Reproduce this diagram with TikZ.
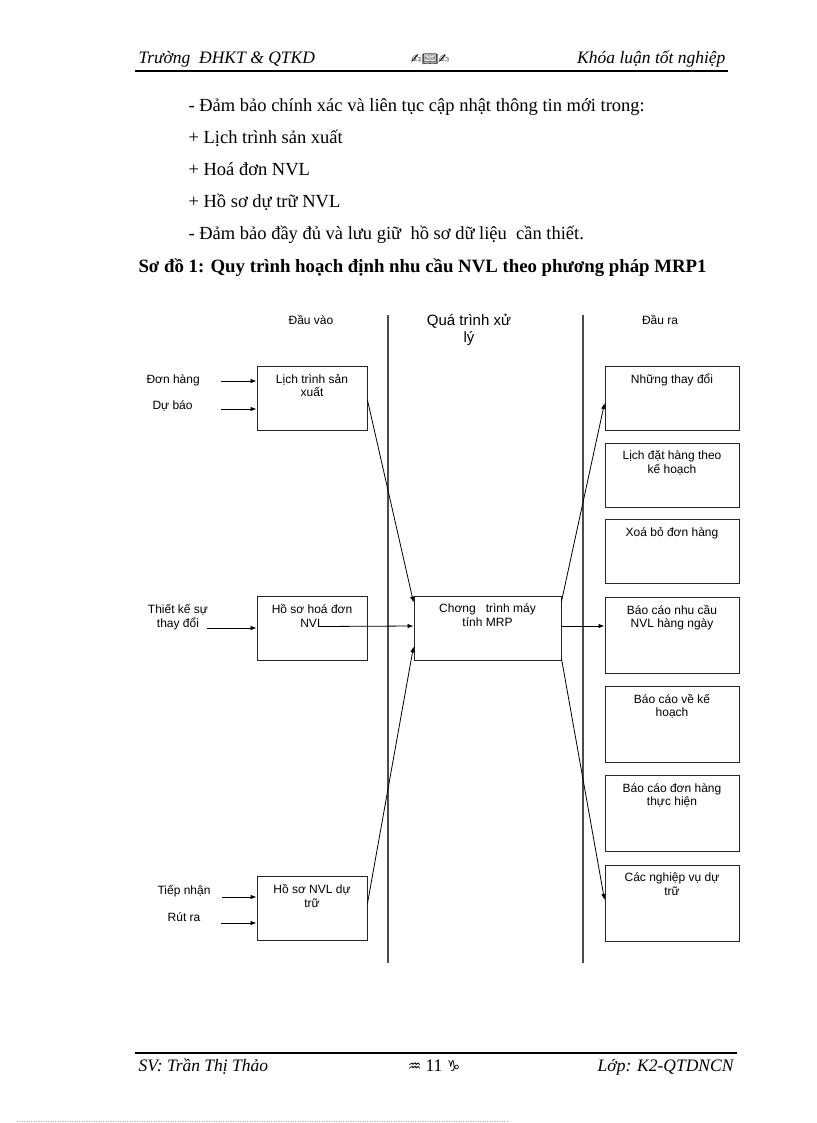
\documentclass[tikz,border=0pt]{standalone}
\usepackage{fontspec}
\setmainfont{Liberation Serif}
\newfontfamily\arialf{Liberation Sans}
\newfontfamily\symf{DejaVu Sans}
\newfontfamily\emojif{Noto Emoji}
\usetikzlibrary{positioning,arrows.meta}
\newcommand{\bodyfs}    {\fontsize{18.5}{21}\selectfont}
\newcommand{\hdfs}      {\fontsize{17.5}{20}\selectfont}
\newcommand{\dgfs}      {\arialf\fontsize{12}{13.5}\selectfont}

\begin{document}
\begin{tikzpicture}[x=1pt,y=-1pt,
   bx/.style={draw=black!85,line width=0.9pt,minimum width=110pt,minimum height=64pt,inner sep=0pt},
   bt/.style={font=\dgfs,align=center,anchor=north},
   arr/.style={line width=0.8pt,-{Latex[length=6pt,width=4.5pt]}}]
   \useasboundingbox (0,0) rectangle (816,1123);
   % header and footer
   \node[anchor=base west,font=\itshape\hdfs] (truong) at (135,64) {Trường \ ĐHKT \& QTKD};
   \node[anchor=base,font=\fontsize{13}{13}\selectfont] (orn) at (430,64) {{\symf ✍}{\emojif 📖}{\symf ✍}};
   \node[anchor=base east,font=\itshape\hdfs] (khoaluan) at (729,64) {Khóa luận tốt nghiệp};
   \draw[line width=1.6pt] (135,71) -- (728,71);
   \draw[line width=1.6pt] (135,1053) -- (737,1053);
   \node[anchor=base west,font=\itshape\hdfs] (sv) at (135,1071) {SV: Trần Thị Thảo};
   \node[anchor=base,font=\hdfs] (trang) at (434,1071) {{\symf\fontsize{15}{15}\selectfont ♒} 11 {\symf\fontsize{15}{15}\selectfont ♑}};
   \node[anchor=base east,font=\itshape\hdfs] (lop) at (737,1071) {Lớp: K2-QTDNCN};
   \draw[black!30,dotted] (17,1121) -- (507,1121);
   % body text
   \node[anchor=base west,font=\bodyfs] (t1) at (185,112) {- Đảm bảo chính xác và liên tục cập nhật thông tin mới trong:};
   \node[anchor=base west,font=\bodyfs] (t2) at (185,144) {+ Lịch trình sản xuất};
   \node[anchor=base west,font=\bodyfs] (t3) at (185,176) {+ Hoá đơn NVL};
   \node[anchor=base west,font=\bodyfs] (t4) at (185,208) {+ Hồ sơ dự trữ NVL};
   \node[anchor=base west,font=\bodyfs] (t5) at (185,240) {- Đảm bảo đầy đủ và lưu giữ \ hồ sơ dữ liệu \ cần thiết.};
   \node[anchor=base west,font=\bfseries\fontsize{18.8}{21}\selectfont] (sodo) at (135,272) {Sơ đồ 1: Quy trình hoạch định nhu cầu NVL theo phương pháp MRP1};
   % columns
   \draw[black!70,line width=1.5pt] (388,315) -- (388,963);
   \draw[black!70,line width=1.5pt] (583,315) -- (583,963);
   \node[font=\dgfs] (dauvao) at (311,320) {Đầu vào};
   \node[font=\arialf\fontsize{15}{17}\selectfont,align=center] (xuly) at (469,330) {Quá trình xử\\lý};
   \node[font=\dgfs] (daura) at (660,320) {Đầu ra};
   % input boxes
   \node[bx] (lich) at (312,398) {};
   \node[bx] (hdon) at (312,628.5) {};
   \node[bx] (dutru) at (312,908.5) {};
   \node[bt,below=5pt of lich.north] (lichT) {Lịch trình sản\\xuất};
   \node[bt,below=5pt of hdon.north] (hdonT) {Hồ sơ hoá đơn\\NVL};
   \node[bt,below=5pt of dutru.north] (dutruT) {Hồ sơ NVL dự\\trữ};
   % MRP box
   \node[bx,minimum width=147pt] (mrp) at (487.5,628) {};
   \node[bt,below=5pt of mrp.north] (mrpT) {Chơng \ \ trình máy\\tính MRP};
   % output boxes
   \node[bx,minimum width=134pt] (thaydoi) at (672,398) {};
   \node[bx,minimum width=134pt] (dathang) at (672,475) {};
   \node[bx,minimum width=134pt] (xoabo) at (672,551) {};
   \node[bx,minimum width=134pt,minimum height=76pt] (nhucau) at (672,635) {};
   \node[bx,minimum width=134pt,minimum height=76pt] (kehoach) at (672,724) {};
   \node[bx,minimum width=134pt,minimum height=76pt] (thuchien) at (672,813.5) {};
   \node[bx,minimum width=134pt,minimum height=76pt] (nghiepvu) at (672,903) {};
   \node[bt,below=5pt of thaydoi.north] (thaydoiT) {Những thay đổi};
   \node[bt,below=5pt of dathang.north] (dathangT) {Lịch đặt hàng theo\\kế hoạch};
   \node[bt,below=5pt of xoabo.north] (xoaboT) {Xoá bỏ đơn hàng};
   \node[bt,below=5pt of nhucau.north] (nhucauT) {Báo cáo nhu cầu\\NVL hàng ngày};
   \node[bt,below=5pt of kehoach.north] (kehoachT) {Báo cáo về kế\\hoạch};
   \node[bt,below=5pt of thuchien.north] (thuchienT) {Báo cáo đơn hàng\\thực hiện};
   \node[bt,below=5pt of nghiepvu.north] (nghiepvuT) {Các nghiệp vụ dự\\trữ};
   % inputs
   \node[font=\dgfs,anchor=west] (donhang) at (143,380) {Đơn hàng};
   \node[font=\dgfs,anchor=west] (dubao) at (149,406) {Dự báo};
   \node[font=\dgfs,align=center] (thietke) at (178,617) {Thiết kế sự\\thay đổi};
   \node[font=\dgfs] (tiepnhan) at (184,891) {Tiếp nhận};
   \node[font=\dgfs] (rutra) at (184,917) {Rút ra};
   \coordinate (in1) at (221,381);
   \coordinate (in2) at (221,409);
   \coordinate (in3) at (207,628);
   \coordinate (in4) at (222,897);
   \coordinate (in5) at (221,923);
   \draw[arr] (in1) -- (in1 -| lich.west);
   \draw[arr] (in2) -- (in2 -| lich.west);
   \draw[arr] (in3) -- (in3 -| hdon.west);
   \draw[arr] (in4) -- (in4 -| dutru.west);
   \draw[arr] (in5) -- (in5 -| dutru.west);
   % flows
   \draw[arr] ([yshift=-2pt]lich.east) -- ([yshift=-7pt]mrp.north west);
   \draw[arr] ([xshift=8pt,yshift=2pt]hdon.center) -- ([yshift=2pt]mrp.west);
   \draw[arr] ([yshift=5pt]dutru.east) -- ([yshift=14pt]mrp.south west);
   \draw[arr] ([yshift=-6pt]mrp.north east) -- ([yshift=-5pt]thaydoi.west);
   \draw[arr] ([yshift=2pt]mrp.east) -- ([yshift=2pt]mrp.east -| nhucau.west);
   \draw[arr] ([yshift=2pt]mrp.south east) -- ([yshift=3pt]nghiepvu.west);
\end{tikzpicture}
\end{document}
